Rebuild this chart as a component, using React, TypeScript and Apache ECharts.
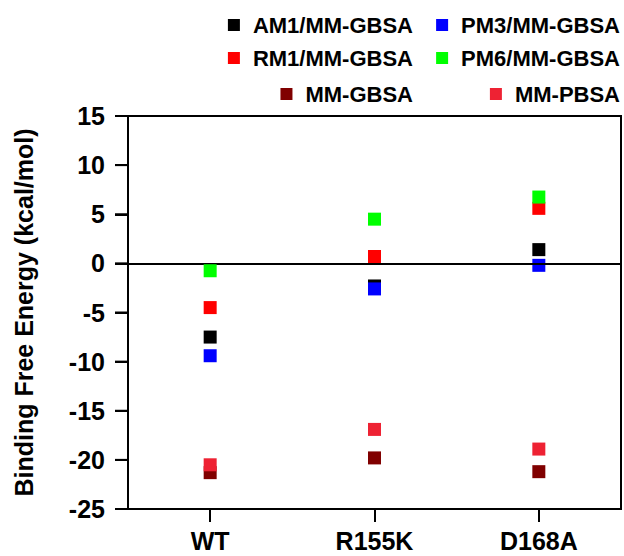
import React, { useEffect, useRef } from "react";
import * as echarts from "echarts";

const categories = ["WT", "R155K", "D168A"];
const seriesNames = ["AM1/MM-GBSA", "PM3/MM-GBSA", "RM1/MM-GBSA", "PM6/MM-GBSA", "MM-GBSA", "MM-PBSA"];
const am1 = [-7.5, -2.3, 1.4];
const pm3 = [-9.4, -2.6, -0.2];
const rm1 = [-4.5, 0.7, 5.6];
const pm6 = [-0.75, 4.5, 6.75];
const mmgbsa = [-21.3, -19.8, -21.2];
const mmpbsa = [-20.5, -16.9, -18.9];
const colors = ["#000000", "#0000ff", "#ff0000", "#00ff00", "#800000", "#ee2233"];
const yTicks = { min: -25, max: 15, interval: 5 };
const yTickValues = [-25, -20, -15, -10, -5, 0, 5, 10, 15];

const FONT = 'Arial, "Liberation Sans", sans-serif';

export default function App() {
  const ref = useRef<HTMLDivElement>(null);
  useEffect(() => {
    document.body.style.margin = "0";
    const chart = echarts.init(ref.current!, null, { renderer: "svg" });
    const values = [am1, pm3, rm1, pm6, mmgbsa, mmpbsa];
    const legendPos = [
      { right: 211, top: 14 },
      { right: 4, top: 14 },
      { right: 211, top: 47 },
      { right: 4, top: 47 },
      { right: 211, top: 83 },
      { right: 4, top: 83 },
    ];
    const legends = seriesNames.map((n, i) => ({
      data: [n],
      right: legendPos[i].right,
      top: legendPos[i].top,
      padding: 0,
      itemWidth: 12,
      itemHeight: 12,
      icon: "rect",
      selectedMode: false,
      textStyle: {
        fontFamily: FONT,
        fontWeight: "bold",
        fontSize: 22,
        color: "#000",
        padding: [0, 0, 0, 8],
        lineHeight: 22,
      },
    }));
    const series = seriesNames.map((n, i) => ({
      name: n,
      type: "scatter",
      symbol: "rect",
      symbolSize: 13,
      itemStyle: { color: colors[i], opacity: 1 },
      data: values[i],
      z: 2 + i,
      ...(i === 0
        ? {
            markLine: {
              silent: true,
              symbol: "none",
              label: { show: false },
              lineStyle: { color: "#000", type: "solid", width: 2 },
              data: [{ yAxis: 0 }],
            },
          }
        : {}),
    }));
    const gridLeft = 128;
    const tickLen = 13;
    chart.setOption({
      animation: false,
      legend: legends,
      grid: {
        left: gridLeft,
        right: 3,
        top: 116,
        bottom: 47,
        show: true,
        borderColor: "#000",
        borderWidth: 2,
        backgroundColor: "transparent",
      },
      xAxis: {
        type: "category",
        data: categories,
        boundaryGap: true,
        axisLine: { onZero: false, lineStyle: { color: "#000", width: 2 } },
        axisTick: { show: true, alignWithLabel: true, length: tickLen, lineStyle: { color: "#000", width: 2 } },
        axisLabel: { fontFamily: FONT, fontWeight: "bold", fontSize: 25, color: "#000", margin: 19 },
        splitLine: { show: false },
      },
      yAxis: {
        type: "value",
        min: yTicks.min,
        max: yTicks.max,
        interval: yTicks.interval,
        name: "Binding Free Energy (kcal/mol)",
        nameLocation: "middle",
        nameGap: 92,
        nameTextStyle: { fontFamily: FONT, fontWeight: "bold", fontSize: 25, color: "#000" },
        axisLine: { show: true, lineStyle: { color: "#000", width: 2 } },
        axisTick: { show: true, length: tickLen, lineStyle: { color: "#000", width: 2 } },
        axisLabel: { fontFamily: FONT, fontWeight: "bold", fontSize: 25, color: "#000", margin: 23 },
        splitLine: { show: false },
      },
      series,
    });
    // y-axis tick marks positioned through the axis scale
    const tickLines = yTickValues.map((v) => {
      const py = chart.convertToPixel({ yAxisIndex: 0 }, v) as number;
      return {
        type: "line",
        silent: true,
        z: 10,
        shape: { x1: gridLeft - tickLen, y1: py, x2: gridLeft, y2: py },
        style: { stroke: "#000", lineWidth: 2 },
      };
    });
    chart.setOption({ graphic: tickLines });
    return () => chart.dispose();
  }, []);
  return <div ref={ref} style={{ width: 624, height: 556, position: "absolute", left: 0, top: 0 }} />;
}
